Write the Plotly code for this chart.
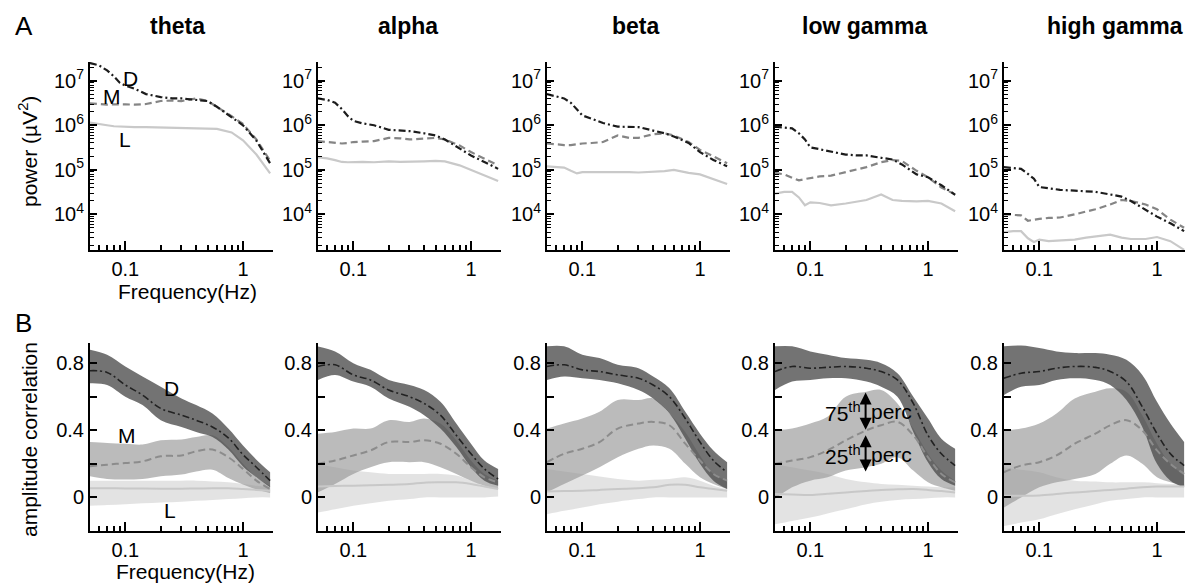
import math
import plotly.graph_objects as go

W, H = 1185, 587

bands = ["theta", "alpha", "beta", "low gamma", "high gamma"]

# frequency grids (Hz)
freq_power = [0.05, 0.06, 0.07, 0.08, 0.09, 0.1, 0.12, 0.15, 0.2, 0.25, 0.3, 0.4, 0.5, 0.6, 0.8, 1.0, 1.3, 1.7]
freq_corr = [0.05, 0.07, 0.1, 0.14, 0.2, 0.3, 0.4, 0.55, 0.75, 1.0, 1.3, 1.7]

# A: power (uV^2) for deep (D), middle (M), lateral (L)
pow_theta_D = [2.5e7, 2.2e7, 1.7e7, 1.25e7, 8.9e6, 7.8e6, 6.6e6, 5.0e6, 4.3e6, 4.0e6, 4.0e6, 3.7e6, 3.5e6, 2.6e6, 1.5e6, 1.0e6, 4.5e5, 1.4e5]
pow_theta_M = [3.1e6, 3.0e6, 2.9e6, 2.95e6, 3.0e6, 2.95e6, 2.9e6, 3.0e6, 3.5e6, 3.6e6, 3.5e6, 4.0e6, 3.5e6, 2.6e6, 1.6e6, 1.07e6, 4.8e5, 1.6e5]
pow_theta_L = [1.15e6, 1.05e6, 1.0e6, 9.5e5, 9.3e5, 9.3e5, 9.1e5, 9.1e5, 8.9e5, 8.9e5, 8.7e5, 8.7e5, 8.5e5, 8.3e5, 6.9e5, 4.6e5, 2.2e5, 8.3e4]
pow_alpha_D = [4.0e6, 3.7e6, 3.2e6, 2.3e6, 1.6e6, 1.26e6, 1.1e6, 1.0e6, 7.9e5, 7.6e5, 7.4e5, 6.6e5, 5.9e5, 4.8e5, 3.0e5, 2.1e5, 1.5e5, 1.05e5]
pow_alpha_M = [4.4e5, 4.2e5, 4.0e5, 3.9e5, 4.0e5, 4.2e5, 4.3e5, 4.4e5, 5.2e5, 5.1e5, 4.8e5, 5.0e5, 5.2e5, 4.8e5, 3.5e5, 2.5e5, 1.8e5, 1.26e5]
pow_alpha_L = [1.9e5, 1.8e5, 1.65e5, 1.5e5, 1.48e5, 1.5e5, 1.5e5, 1.48e5, 1.55e5, 1.5e5, 1.5e5, 1.55e5, 1.58e5, 1.55e5, 1.26e5, 1.0e5, 7.6e4, 5.6e4]
pow_beta_D = [5.0e6, 4.5e6, 4.0e6, 3.2e6, 2.2e6, 1.66e6, 1.4e6, 1.12e6, 9.3e5, 9.1e5, 9.1e5, 7.6e5, 6.6e5, 5.6e5, 4.0e5, 2.5e5, 1.66e5, 1.2e5]
pow_beta_M = [3.9e5, 3.7e5, 3.6e5, 3.6e5, 3.8e5, 3.9e5, 4.0e5, 4.2e5, 5.9e5, 5.2e5, 5.2e5, 6.3e5, 6.6e5, 5.9e5, 4.2e5, 2.8e5, 2.0e5, 1.4e5]
pow_beta_L = [1.2e5, 1.17e5, 1.12e5, 9.5e4, 8.3e4, 8.9e4, 8.9e4, 8.9e4, 9.1e4, 8.9e4, 8.7e4, 9.1e4, 9.3e4, 1.0e5, 8.5e4, 7.9e4, 6.3e4, 4.8e4]
pow_lowg_D = [9.3e5, 8.9e5, 8.5e5, 6.6e5, 4.8e5, 3.2e5, 2.9e5, 2.5e5, 2.2e5, 2.1e5, 2.1e5, 1.86e5, 1.7e5, 1.32e5, 7.9e4, 6.8e4, 4.5e4, 2.75e4]
pow_lowg_M = [8.5e4, 7.9e4, 6.6e4, 5.8e4, 6.2e4, 6.6e4, 7.1e4, 7.4e4, 8.9e4, 1.0e5, 1.15e5, 1.48e5, 1.66e5, 1.58e5, 9.5e4, 6.8e4, 4.0e4, 2.8e4]
pow_lowg_L = [2.9e4, 3.2e4, 3.2e4, 2.4e4, 1.6e4, 1.86e4, 1.8e4, 1.6e4, 1.75e4, 1.9e4, 2.1e4, 2.8e4, 2.1e4, 2.0e4, 1.95e4, 2.0e4, 1.75e4, 1.17e4]
pow_highg_D = [1.15e5, 1.1e5, 1.05e5, 8.1e4, 6.3e4, 4.1e4, 3.8e4, 3.55e4, 3.4e4, 3.3e4, 3.2e4, 2.8e4, 2.5e4, 2.0e4, 1.26e4, 8.9e3, 6.3e3, 4.2e3]
pow_highg_M = [1.0e4, 9.8e3, 9.5e3, 7.2e3, 7.6e3, 7.9e3, 8.3e3, 8.5e3, 1.0e4, 1.15e4, 1.3e4, 1.66e4, 2.1e4, 2.0e4, 1.66e4, 1.3e4, 7.6e3, 5.0e3]
pow_highg_L = [4.0e3, 4.2e3, 4.2e3, 2.9e3, 2.4e3, 2.7e3, 2.5e3, 2.6e3, 2.7e3, 3.0e3, 3.2e3, 3.5e3, 3.0e3, 2.8e3, 2.8e3, 3.1e3, 2.5e3, 1.6e3]

# B: amplitude correlation, median with 25th / 75th percentile
cor_theta_D_lo = [0.68, 0.67, 0.6, 0.55, 0.46, 0.42, 0.39, 0.36, 0.285, 0.185, 0.12, 0.06]
cor_theta_D_md = [0.755, 0.745, 0.67, 0.61, 0.53, 0.49, 0.46, 0.42, 0.355, 0.255, 0.18, 0.1]
cor_theta_D_hi = [0.88, 0.85, 0.78, 0.72, 0.66, 0.59, 0.55, 0.5, 0.41, 0.31, 0.225, 0.15]
cor_theta_M_lo = [0.126, 0.11, 0.107, 0.11, 0.126, 0.136, 0.155, 0.165, 0.116, 0.077, 0.047, 0.027]
cor_theta_M_md = [0.186, 0.195, 0.205, 0.215, 0.245, 0.25, 0.275, 0.285, 0.24, 0.17, 0.1, 0.05]
cor_theta_M_hi = [0.33, 0.325, 0.32, 0.315, 0.34, 0.345, 0.36, 0.37, 0.3, 0.2, 0.12, 0.07]
cor_theta_L_lo = [-0.05, -0.045, -0.04, -0.035, -0.03, -0.025, -0.02, -0.015, -0.01, -0.005, 0.0, 0.0]
cor_theta_L_md = [0.055, 0.055, 0.053, 0.053, 0.052, 0.052, 0.053, 0.055, 0.055, 0.05, 0.045, 0.04]
cor_theta_L_hi = [0.1, 0.1, 0.1, 0.1, 0.1, 0.1, 0.1, 0.095, 0.09, 0.08, 0.07, 0.06]

cor_alpha_D_lo = [0.7, 0.73, 0.69, 0.66, 0.59, 0.54, 0.49, 0.41, 0.3, 0.18, 0.1, 0.07]
cor_alpha_D_md = [0.78, 0.79, 0.73, 0.7, 0.64, 0.6, 0.56, 0.49, 0.37, 0.26, 0.17, 0.11]
cor_alpha_D_hi = [0.9, 0.87, 0.8, 0.76, 0.7, 0.67, 0.64, 0.57, 0.44, 0.32, 0.22, 0.17]
cor_alpha_M_lo = [0.03, 0.08, 0.14, 0.18, 0.21, 0.21, 0.21, 0.18, 0.14, 0.1, 0.07, 0.05]
cor_alpha_M_md = [0.2, 0.22, 0.25, 0.28, 0.33, 0.33, 0.34, 0.32, 0.26, 0.18, 0.12, 0.09]
cor_alpha_M_hi = [0.38, 0.39, 0.41, 0.41, 0.46, 0.45, 0.47, 0.44, 0.34, 0.22, 0.14, 0.1]
cor_alpha_L_lo = [-0.09, -0.07, -0.05, -0.035, -0.02, -0.01, 0.0, 0.0, 0.0, 0.0, 0.0, 0.005]
cor_alpha_L_md = [0.065, 0.068, 0.07, 0.072, 0.075, 0.08, 0.088, 0.09, 0.09, 0.08, 0.065, 0.05]
cor_alpha_L_hi = [0.2, 0.18, 0.16, 0.15, 0.14, 0.14, 0.14, 0.14, 0.13, 0.1, 0.07, 0.05]

cor_beta_D_lo = [0.7, 0.72, 0.71, 0.7, 0.68, 0.64, 0.59, 0.5, 0.35, 0.2, 0.1, 0.05]
cor_beta_D_md = [0.78, 0.79, 0.76, 0.75, 0.73, 0.71, 0.67, 0.6, 0.47, 0.33, 0.22, 0.15]
cor_beta_D_hi = [0.9, 0.9, 0.85, 0.83, 0.79, 0.77, 0.72, 0.65, 0.51, 0.38, 0.28, 0.21]
cor_beta_M_lo = [0.03, 0.08, 0.13, 0.18, 0.24, 0.29, 0.31, 0.29, 0.2, 0.12, 0.08, 0.05]
cor_beta_M_md = [0.21, 0.26, 0.29, 0.33, 0.41, 0.44, 0.45, 0.43, 0.32, 0.22, 0.14, 0.1]
cor_beta_M_hi = [0.41, 0.44, 0.47, 0.51, 0.58, 0.58, 0.59, 0.5, 0.39, 0.25, 0.14, 0.1]
cor_beta_L_lo = [-0.1, -0.08, -0.06, -0.04, -0.025, -0.01, 0.0, 0.0, 0.0, 0.0, 0.0, 0.0]
cor_beta_L_md = [0.035, 0.038, 0.04, 0.045, 0.05, 0.055, 0.06, 0.075, 0.075, 0.06, 0.05, 0.04]
cor_beta_L_hi = [0.17, 0.155, 0.14, 0.125, 0.11, 0.1, 0.105, 0.11, 0.12, 0.1, 0.07, 0.05]

cor_lowg_D_lo = [0.64, 0.69, 0.7, 0.71, 0.71, 0.69, 0.66, 0.6, 0.39, 0.21, 0.11, 0.07]
cor_lowg_D_md = [0.75, 0.78, 0.77, 0.775, 0.78, 0.77, 0.75, 0.7, 0.56, 0.37, 0.26, 0.19]
cor_lowg_D_hi = [0.9, 0.9, 0.87, 0.85, 0.83, 0.82, 0.8, 0.74, 0.6, 0.47, 0.35, 0.29]
cor_lowg_M_lo = [-0.01, 0.06, 0.1, 0.12, 0.16, 0.18, 0.2, 0.24, 0.16, 0.09, 0.06, 0.04]
cor_lowg_M_md = [0.2, 0.22, 0.24, 0.28, 0.34, 0.4, 0.43, 0.45, 0.37, 0.24, 0.14, 0.09]
cor_lowg_M_hi = [0.4, 0.41, 0.44, 0.48, 0.6, 0.63, 0.64, 0.56, 0.41, 0.26, 0.16, 0.1]
cor_lowg_L_lo = [-0.16, -0.14, -0.12, -0.095, -0.07, -0.04, -0.025, -0.015, -0.01, -0.005, 0.0, 0.0]
cor_lowg_L_md = [0.02, 0.018, 0.015, 0.022, 0.03, 0.038, 0.045, 0.048, 0.05, 0.045, 0.038, 0.03]
cor_lowg_L_hi = [0.2, 0.18, 0.16, 0.14, 0.11, 0.09, 0.08, 0.075, 0.07, 0.065, 0.06, 0.06]

cor_highg_D_lo = [0.61, 0.66, 0.67, 0.7, 0.71, 0.7, 0.67, 0.58, 0.42, 0.2, 0.1, 0.06]
cor_highg_D_md = [0.71, 0.74, 0.75, 0.77, 0.78, 0.775, 0.75, 0.69, 0.54, 0.38, 0.26, 0.19]
cor_highg_D_hi = [0.9, 0.905, 0.89, 0.87, 0.86, 0.86, 0.85, 0.82, 0.73, 0.57, 0.44, 0.33]
cor_highg_M_lo = [-0.06, 0.0, 0.06, 0.09, 0.11, 0.14, 0.2, 0.25, 0.2, 0.12, 0.09, 0.07]
cor_highg_M_md = [0.15, 0.19, 0.21, 0.25, 0.32, 0.38, 0.43, 0.46, 0.4, 0.28, 0.2, 0.14]
cor_highg_M_hi = [0.4, 0.41, 0.44, 0.5, 0.59, 0.63, 0.65, 0.63, 0.49, 0.32, 0.2, 0.13]
cor_highg_L_lo = [-0.17, -0.15, -0.13, -0.1, -0.07, -0.04, -0.02, -0.01, 0.0, 0.0, 0.0, 0.0]
cor_highg_L_md = [0.01, 0.01, 0.012, 0.02, 0.03, 0.038, 0.045, 0.052, 0.06, 0.065, 0.065, 0.065]
cor_highg_L_hi = [0.18, 0.165, 0.15, 0.12, 0.1, 0.095, 0.09, 0.09, 0.09, 0.085, 0.08, 0.08]

power_sets = [
    (pow_theta_D, pow_theta_M, pow_theta_L),
    (pow_alpha_D, pow_alpha_M, pow_alpha_L),
    (pow_beta_D, pow_beta_M, pow_beta_L),
    (pow_lowg_D, pow_lowg_M, pow_lowg_L),
    (pow_highg_D, pow_highg_M, pow_highg_L),
]
corr_sets = [
    [(cor_theta_L_lo, cor_theta_L_md, cor_theta_L_hi), (cor_theta_M_lo, cor_theta_M_md, cor_theta_M_hi), (cor_theta_D_lo, cor_theta_D_md, cor_theta_D_hi)],
    [(cor_alpha_L_lo, cor_alpha_L_md, cor_alpha_L_hi), (cor_alpha_M_lo, cor_alpha_M_md, cor_alpha_M_hi), (cor_alpha_D_lo, cor_alpha_D_md, cor_alpha_D_hi)],
    [(cor_beta_L_lo, cor_beta_L_md, cor_beta_L_hi), (cor_beta_M_lo, cor_beta_M_md, cor_beta_M_hi), (cor_beta_D_lo, cor_beta_D_md, cor_beta_D_hi)],
    [(cor_lowg_L_lo, cor_lowg_L_md, cor_lowg_L_hi), (cor_lowg_M_lo, cor_lowg_M_md, cor_lowg_M_hi), (cor_lowg_D_lo, cor_lowg_D_md, cor_lowg_D_hi)],
    [(cor_highg_L_lo, cor_highg_L_md, cor_highg_L_hi), (cor_highg_M_lo, cor_highg_M_md, cor_highg_M_hi), (cor_highg_D_lo, cor_highg_D_md, cor_highg_D_hi)],
]

# Styles #
FONT = "Liberation Sans, Arial, sans-serif"
DASHDOT = "7px,3px,2px,3px"
line_styles = {
    "D": dict(color="#1c1c1c", width=2.2, dash=DASHDOT),
    "M": dict(color="#858585", width=2.2, dash="7px,4px"),
    "L": dict(color="#c9c9c9", width=2.2, dash="solid"),
}
fill_colors = ["rgba(200,200,200,0.5)", "rgba(150,150,150,0.65)", "rgba(80,80,80,0.8)"]
mid_lines = [
    dict(color="#c8c8c8", width=2, dash="solid"),
    dict(color="#8c8c8c", width=2, dash="7px,4px"),
    dict(color="#222222", width=1.6, dash=DASHDOT),
]

panel_x0 = [90, 318, 547, 775, 1004]
panel_w = 183
rowA_y = (62, 250)
rowB_y = (343, 531)

fig = go.Figure()

# Row A: power spectra #
for i, (pD, pM, pL) in enumerate(power_sets):
    ax = str(i + 1)
    for name, vals in (("L", pL), ("M", pM), ("D", pD)):
        fig.add_trace(go.Scatter(
            x=freq_power, y=vals, mode="lines", line=line_styles[name],
            xaxis="x" + ax, yaxis="y" + ax, hoverinfo="skip"
        ))

# Row B: amplitude correlation bands #
for i, groups in enumerate(corr_sets):
    ax = str(i + 6)
    for k, (lo, md, hi) in enumerate(groups):
        fig.add_trace(go.Scatter(
            x=freq_corr, y=lo, mode="lines", line=dict(width=0, shape="spline"),
            xaxis="x" + ax, yaxis="y" + ax, hoverinfo="skip"
        ))
        fig.add_trace(go.Scatter(
            x=freq_corr, y=hi, mode="lines", line=dict(width=0, shape="spline"),
            fill="tonexty", fillcolor=fill_colors[k],
            xaxis="x" + ax, yaxis="y" + ax, hoverinfo="skip"
        ))
    for k, (lo, md, hi) in enumerate(groups):
        fig.add_trace(go.Scatter(
            x=freq_corr, y=md, mode="lines", line=dict(shape="spline", **mid_lines[k]),
            xaxis="x" + ax, yaxis="y" + ax, hoverinfo="skip"
        ))

# Axes #
x_major = [0.1, 1]
x_minor = [0.06, 0.07, 0.08, 0.09, 0.2, 0.3, 0.4, 0.5, 0.6, 0.7, 0.8, 0.9]
yA_major = [1e4, 1e5, 1e6, 1e7]
yA_text = ["10<sup>4</sup>", "10<sup>5</sup>", "10<sup>6</sup>", "10<sup>7</sup>"]
yA_minor = [m * 10 ** e for e in range(3, 8) for m in range(2, 10)]
yB_major = [0, 0.4, 0.8]
yB_minor = [0.2, 0.6]

common = dict(
    showline=True, linecolor="black", linewidth=2, ticks="inside",
    tickcolor="black", tickwidth=1.5, ticklen=9, showgrid=False, zeroline=False,
    tickfont=dict(family=FONT, size=20, color="black"), mirror=False,
)

axes = {}
for row, (ytop, ybot) in enumerate((rowA_y, rowB_y)):
    for i, x0 in enumerate(panel_x0):
        n = i + 1 + 5 * row
        sfx = "" if n == 1 else str(n)
        x1 = min(x0 + panel_w, W)
        xr_end = 0.255 if x0 + panel_w <= W else 0.255 - (x0 + panel_w - W) / 117.7
        axes["xaxis" + sfx] = dict(
            common, type="log", domain=[x0 / W, x1 / W], anchor="y" + str(n),
            range=[-1.30, xr_end], tickvals=x_major, ticktext=["0.1", "1"],
            minor=dict(tickvals=x_minor, ticks="inside", ticklen=5, tickcolor="black", tickwidth=1.5),
        )
        if row == 0:
            axes["yaxis" + sfx] = dict(
                common, type="log", domain=[1 - ybot / H, 1 - ytop / H], anchor="x" + str(n),
                range=[3.2, 7.42], tickvals=yA_major, ticktext=yA_text, ticklen=7,
                minor=dict(tickvals=yA_minor, ticks="inside", ticklen=4, tickcolor="black", tickwidth=1.2),
            )
        else:
            axes["yaxis" + sfx] = dict(
                common, domain=[1 - ybot / H, 1 - ytop / H], anchor="x" + str(n),
                range=[-0.2, 0.92], tickvals=yB_major, ticktext=["0", "0.4", "0.8"], ticklen=7,
                minor=dict(tickvals=yB_minor, ticks="inside", ticklen=7, tickcolor="black", tickwidth=1.5),
            )

fig.update_layout(**axes)

# Annotations #
def note(text, x, y, size=21, bold=False, angle=0, xanchor="center"):
    fig.add_annotation(
        text="<b>" + text + "</b>" if bold else text,
        x=x / W, y=1 - y / H, xref="paper", yref="paper",
        showarrow=False, textangle=angle, xanchor=xanchor, yanchor="middle",
        font=dict(family=FONT, size=size, color="black"),
    )

title_x = [178, 408, 636, 864, 1115]
for name, tx in zip(bands, title_x):
    note(name, tx, 26, size=23, bold=True)

note("A", 24, 26, size=26)
note("B", 23, 323, size=26)
note("power (µV<sup>2</sup>)", 28, 152, size=21, angle=-90)
note("amplitude correlation", 29, 440, size=21, angle=-90)
note("Frequency(Hz)", 187, 292, size=21)
note("Frequency(Hz)", 185, 571, size=21)

# D / M / L labels in theta panels
note("D", 130, 78)
note("M", 112, 96)
note("L", 125, 140)
note("D", 172, 388)
note("M", 127, 435)
note("L", 170, 510)

# Percentile arrows in low gamma correlation panel
arrow_f = 0.295
arrow_spans = [(0.625, 0.395), (0.37, 0.145)]
for y_top, y_bot in arrow_spans:
    fig.add_annotation(
        x=math.log10(arrow_f), y=y_top, ax=math.log10(arrow_f), ay=y_bot,
        xref="x9", yref="y9", axref="x9", ayref="y9", text="",
        showarrow=True, arrowhead=2, startarrowhead=2, arrowside="end+start",
        arrowsize=1.2, arrowwidth=2, arrowcolor="black",
    )
for label, ly in (("75<sup>th</sup>", 0.51), ("25<sup>th</sup>", 0.255)):
    fig.add_annotation(
        x=math.log10(arrow_f) - 0.025, y=ly, xref="x9", yref="y9", text=label,
        showarrow=False, xanchor="right", font=dict(family=FONT, size=21, color="black"),
    )
    fig.add_annotation(
        x=math.log10(arrow_f) + 0.025, y=ly, xref="x9", yref="y9", text="perc",
        showarrow=False, xanchor="left", font=dict(family=FONT, size=21, color="black"),
    )

fig.update_layout(
    width=W, height=H, showlegend=False,
    margin=dict(l=0, r=0, t=0, b=0),
    paper_bgcolor="white", plot_bgcolor="white",
    font=dict(family=FONT, color="black"),
)

fig.write_html(
    "out.html",
    config={"displayModeBar": False},
    post_script="document.body.style.margin='0';",
)
